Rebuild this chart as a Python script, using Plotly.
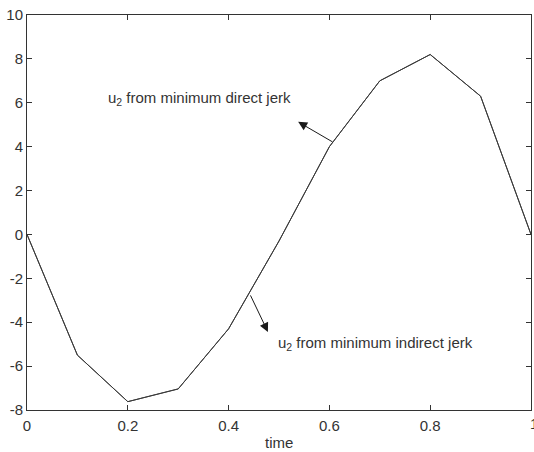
import plotly.graph_objects as go

time = [0.0, 0.1, 0.2, 0.3, 0.4, 0.5, 0.6, 0.7, 0.8, 0.9, 1.0]
u2_direct = [0.0, -5.5, -7.62, -7.04, -4.3, -0.3, 4.0, 7.0, 8.2, 6.3, 0.0]
u2_indirect = [0.0, -5.5, -7.62, -7.04, -4.3, -0.3, 4.0, 7.0, 8.2, 6.3, 0.0]
x_ticks = [0, 0.2, 0.4, 0.6, 0.8, 1]
x_tick_labels = ["0", "0.2", "0.4", "0.6", "0.8", ""]
last_x_label = "1"
y_ticks = [-8, -6, -4, -2, 0, 2, 4, 6, 8, 10]
y_tick_labels = ["-8", "-6", "-4", "-2", "0", "2", "4", "6", "8", "10"]

FAM = "Liberation Sans, Arial, sans-serif"
font = dict(family=FAM, size=15, color="#333333")

fig = go.Figure()
fig.add_trace(go.Scatter(x=time, y=u2_direct, mode="lines",
                         line=dict(color="#3a3a3a", width=1), name="direct"))
fig.add_trace(go.Scatter(x=time, y=u2_indirect, mode="lines",
                         line=dict(color="#3a3a3a", width=1), name="indirect"))

fig.add_annotation(x=0.538, y=5.13, ax=0.609, ay=4.18, xref="x", yref="y",
                   axref="x", ayref="y", showarrow=True, arrowhead=2, arrowsize=1.8,
                   arrowwidth=1, arrowcolor="#1a1a1a", text="")
fig.add_annotation(x=0.478, y=-4.44, ax=0.442, ay=-2.71, xref="x", yref="y",
                   axref="x", ayref="y", showarrow=True, arrowhead=2, arrowsize=1.8,
                   arrowwidth=1, arrowcolor="#1a1a1a", text="")
fig.add_annotation(x=0.156, y=6.2, xref="x", yref="y", xanchor="left", yanchor="middle",
                   showarrow=False, text="u<sub>2</sub> from minimum direct jerk", font=font)
fig.add_annotation(x=0.494, y=-4.95, xref="x", yref="y", xanchor="left", yanchor="middle",
                   showarrow=False, text="u<sub>2</sub> from minimum indirect jerk", font=font)
fig.add_annotation(x=0.5, y=-0.083, xref="paper", yref="paper", xanchor="center",
                   yanchor="middle", showarrow=False, text="time", font=font)
fig.add_annotation(x=x_ticks[-1], y=0, xref="x", yref="paper", xanchor="left",
                   yanchor="top", xshift=-3, yshift=-3, showarrow=False,
                   text=last_x_label, font=font)

axis_common = dict(showgrid=False, zeroline=False, showline=True, linecolor="#333333",
                   linewidth=1, mirror="ticks", ticks="inside", ticklen=5,
                   tickcolor="#333333", automargin=False,
                   tickfont=dict(family=FAM, size=15, color="#333333"))
fig.update_xaxes(range=[0, 1], tickvals=x_ticks, ticktext=x_tick_labels,
                 ticklabelstandoff=2, **axis_common)
fig.update_yaxes(range=[-8, 10], tickvals=y_ticks, ticktext=y_tick_labels,
                 **axis_common)

fig.update_layout(width=534, height=452, showlegend=False,
                  margin=dict(l=27, r=3, t=15, b=42),
                  plot_bgcolor="white", paper_bgcolor="white")
fig.write_html("out.html", config={"displayModeBar": False},
               post_script="document.body.style.margin='0px';document.body.style.padding='0px';")
